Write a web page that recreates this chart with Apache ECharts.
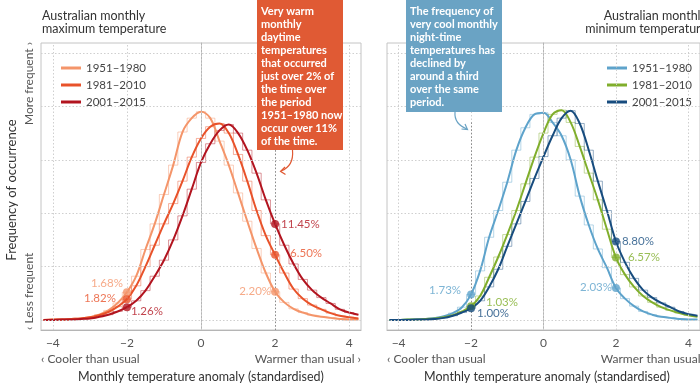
<!DOCTYPE html>
<html><head><meta charset="utf-8">
<script src="https://cdn.jsdelivr.net/npm/echarts@6/dist/echarts.min.js"></script>
<style>html,body{margin:0;padding:0;background:#fff}#c{width:700px;height:387px}</style>
</head><body><div id="c"></div>
<script>
// anomaly (standardised) bin centres
const xs = [-4.25,-4,-3.75,-3.5,-3.25,-3,-2.75,-2.5,-2.25,-2,-1.75,-1.5,-1.25,-1,-0.75,-0.5,-0.25,0,0.25,0.5,0.75,1,1.25,1.5,1.75,2,2.25,2.5,2.75,3,3.25,3.5,3.75,4,4.25];
// maximum temperature frequency
const maxT_1951_1980 = [0.000,0.001,0.001,0.002,0.003,0.005,0.010,0.018,0.032,0.052,0.082,0.132,0.180,0.235,0.290,0.352,0.378,0.390,0.378,0.335,0.290,0.238,0.185,0.134,0.088,0.053,0.033,0.021,0.014,0.009,0.006,0.004,0.002,0.001,0.001];
const maxT_1981_2010 = [0.000,0.001,0.001,0.002,0.003,0.005,0.009,0.015,0.025,0.039,0.064,0.100,0.140,0.180,0.218,0.260,0.305,0.340,0.362,0.368,0.350,0.310,0.260,0.205,0.158,0.122,0.088,0.058,0.040,0.028,0.020,0.013,0.008,0.005,0.003];
const maxT_2001_2015 = [0.000,0.000,0.001,0.001,0.002,0.003,0.006,0.010,0.016,0.024,0.036,0.055,0.082,0.112,0.150,0.195,0.245,0.295,0.330,0.355,0.366,0.350,0.318,0.275,0.225,0.180,0.140,0.105,0.076,0.056,0.042,0.031,0.020,0.014,0.010];
// minimum temperature frequency
const minT_1951_1980 = [0.000,0.000,0.001,0.001,0.002,0.004,0.007,0.013,0.024,0.048,0.092,0.155,0.205,0.258,0.318,0.360,0.385,0.388,0.370,0.345,0.300,0.232,0.178,0.133,0.098,0.060,0.040,0.026,0.016,0.010,0.006,0.004,0.002,0.001,0.001];
const minT_1981_2010 = [0.000,0.000,0.001,0.001,0.002,0.003,0.005,0.009,0.016,0.026,0.045,0.080,0.118,0.160,0.205,0.255,0.305,0.350,0.385,0.393,0.370,0.325,0.275,0.225,0.170,0.117,0.085,0.062,0.045,0.033,0.024,0.018,0.013,0.009,0.006];
const minT_2001_2015 = [0.000,0.000,0.000,0.001,0.001,0.002,0.004,0.008,0.014,0.022,0.036,0.062,0.095,0.138,0.180,0.222,0.265,0.306,0.345,0.378,0.392,0.368,0.318,0.260,0.205,0.147,0.108,0.078,0.056,0.042,0.032,0.024,0.016,0.011,0.008];
// periods
const periods = ['1951–1980','1981–2010','2001–2015'];
// tick labels
const xTicks = [-4,-2,0,2,4];
const yGrid = [0,0.1,0.2,0.3,0.4,0.5];
// highlighted thresholds and labels
const markX = [-2, 2];
const maxPct = [['1.68%','2.20%'],['1.82%','6.50%'],['1.26%','11.45%']];
const minPct = [['1.73%','2.03%'],['1.03%','6.57%'],['1.00%','8.80%']];

const FONT = 'Lato, "Noto Sans", sans-serif';
const maxColors = ['#f4956a','#e8522a','#b2141f'];
const minColors = ['#5ea3cb','#80ae2c','#174c7e'];
const maxData = [maxT_1951_1980, maxT_1981_2010, maxT_2001_2015];
const minData = [minT_1951_1980, minT_1981_2010, minT_2001_2015];

const YMIN = -0.0187, YMAX = 0.5187, XMIN = -4.32, XMAX = 4.32;

function pairs(arr){ return xs.map((x,i)=>[x, arr[i]]); }
function valAt(arr, x){ return arr[xs.indexOf(x)]; }

// label placement per marker: [position, offsetX, offsetY]
const maxLbl = [[['left',5,-9],['left',5,0]],[['left',-2,-1],['right',6,-2]],[['right',-5,4],['right',-3,0]]];
const minLbl = [[['left',-1,-4],['left',5,-1]],[['right',6,-4],['right',3,0]],[['right',-3,5],['right',-3,0]]];

function panel(gi, data, colors, pct, lbl, prefix, threshold){
  const s = [];
  s.push({
    type:'line', xAxisIndex:gi, yAxisIndex:gi, data:[], silent:true,
    markLine:{ silent:true, symbol:'none', label:{show:false}, animation:false,
      lineStyle:{color:'#cfcfcf', type:[1.5,2], width:1},
      data: yGrid.map(v=>({yAxis:v})).concat(xTicks.map(v=>({xAxis:v})))
        .concat([[{coord:[threshold.x, threshold.top], lineStyle:{color:'#8a8a8a', type:[1.5,2], width:1}},{coord:[threshold.x, YMIN]}]])
    }
  });
  data.forEach((arr,k)=>{
    s.push({ type:'line', xAxisIndex:gi, yAxisIndex:gi, data:pairs(arr), step:'middle', showSymbol:false, silent:true,
      lineStyle:{color:colors[k], width:1, opacity:0.45}, z:2 });
  });
  data.forEach((arr,k)=>{
    s.push({ name: prefix + periods[k], type:'line', xAxisIndex:gi, yAxisIndex:gi, data:pairs(arr), smooth:0.35, showSymbol:false,
      lineStyle:{color:colors[k], width:2}, itemStyle:{color:colors[k]}, z:3 });
  });
  data.forEach((arr,k)=>{
    s.push({ type:'scatter', xAxisIndex:gi, yAxisIndex:gi, symbolSize:8, z:5, silent:true,
      itemStyle:{color:colors[k]},
      data: markX.map((x,j)=>({ value:[x, valAt(arr,x)],
        label:{show:true, formatter:pct[k][j], position:lbl[k][j][0], distance:5,
          offset:[lbl[k][j][1], lbl[k][j][2]], color:colors[k], fontSize:11.5, fontFamily:FONT } })) });
  });
  return s;
}

const axisX = gi => ({ type:'value', gridIndex:gi, min:XMIN, max:XMAX,
  axisLine:{show:true, onZero:false, lineStyle:{color:'#b5b5b5'}}, axisTick:{show:false}, splitLine:{show:false},
  axisLabel:{customValues:xTicks, color:'#555', fontSize:12, fontFamily:FONT, margin:7,
    formatter: v => v < 0 ? '−' + Math.abs(v) : String(v)} });
const axisY = gi => ({ type:'value', gridIndex:gi, min:YMIN, max:YMAX,
  axisLine:{show:true, lineStyle:{color:'#b5b5b5'}}, axisTick:{show:false}, axisLabel:{show:false}, splitLine:{show:false} });

const legendCommon = { orient:'vertical', itemWidth:20, itemHeight:3, itemGap:5, icon:'rect',
  backgroundColor:'#fff', padding:[2,4,2,1], z:4,
  textStyle:{color:'#444', fontSize:11.5, fontFamily:FONT}, formatter: n => n.replace(/^(max|min) /,''), selectedMode:false };

const t = (x,y,text,opt) => ({type:'text', x, y, silent:true, style:Object.assign({text, fill:'#333', font:'12.5px '+FONT}, opt||{})});
const rot = Math.PI/2;
const boxText = {fill:'#fff', lineHeight:13, font:'bold 11px '+FONT};

const option = {
  animation:false,
  grid:[
    {left:41, top:43, width:320, height:287, show:true, borderColor:'#c4c4c4', borderWidth:1},
    {left:387, top:43, width:320, height:287, show:true, borderColor:'#c4c4c4', borderWidth:1}
  ],
  xAxis:[axisX(0), axisX(1)],
  yAxis:[axisY(0), axisY(1)],
  legend:[
    Object.assign({left:60, top:60, data:periods.map(p=>'max '+p)}, legendCommon),
    Object.assign({left:606, top:60, data:periods.map(p=>'min '+p)}, legendCommon)
  ],
  series: panel(0, maxData, maxColors, maxPct, maxLbl, 'max ', {x:2, top:0.318})
    .concat(panel(1, minData, minColors, minPct, minLbl, 'min ', {x:-2, top:0.37})),
  graphic:[
    // titles
    t(42, 9, 'Australian monthly\nmaximum temperature', {lineHeight:13.5, font:'12.5px '+FONT}),
    t(707, 9, 'Australian monthly\nminimum temperature', {lineHeight:13.5, align:'right', font:'12.5px '+FONT}),
    // y axis labels
    Object.assign(t(12, 190, 'Frequency of occurrence', {align:'center', verticalAlign:'middle', font:'13px '+FONT}), {rotation:rot}),
    Object.assign(t(29, 125, 'More frequent ›', {align:'left', verticalAlign:'middle', fill:'#555', font:'12px '+FONT}), {rotation:rot}),
    Object.assign(t(29, 330, '‹ Less frequent', {align:'left', verticalAlign:'middle', fill:'#555', font:'12px '+FONT}), {rotation:rot}),
    // x axis labels
    t(41, 359, '‹ Cooler than usual', {verticalAlign:'middle', fill:'#555', font:'12px '+FONT}),
    t(361, 359, 'Warmer than usual ›', {align:'right', verticalAlign:'middle', fill:'#555', font:'12px '+FONT}),
    t(387, 359, '‹ Cooler than usual', {verticalAlign:'middle', fill:'#555', font:'12px '+FONT}),
    t(707, 359, 'Warmer than usual ›', {align:'right', verticalAlign:'middle', fill:'#555', font:'12px '+FONT}),
    t(201, 377, 'Monthly temperature anomaly (standardised)', {align:'center', verticalAlign:'middle', font:'12.5px '+FONT}),
    t(547, 377, 'Monthly temperature anomaly (standardised)', {align:'center', verticalAlign:'middle', font:'12.5px '+FONT}),
    // annotation boxes
    {type:'rect', shape:{x:257, y:-2, width:86, height:152}, style:{fill:'#e05a34'}, z:10},
    Object.assign(t(261, 4.5, 'Very warm\nmonthly\ndaytime\ntemperatures\nthat occurred\njust over 2% of\nthe time over\nthe period\n1951–1980 now\noccur over 11%\nof the time.', boxText), {z:11}),
    {type:'rect', shape:{x:406, y:-2, width:96, height:114}, style:{fill:'#6aa3c4'}, z:10},
    Object.assign(t(410, 4.5, 'The frequency of\nvery cool monthly\nnight-time\ntemperatures has\ndeclined by\naround a third\nover the same\nperiod.', boxText), {z:11}),
    // arrows
    {type:'bezierCurve', shape:{x1:292.5, y1:150, cpx1:294, cpy1:166, x2:281, y2:171}, style:{stroke:'#e05a34', lineWidth:1.2, fill:null}, z:10},
    {type:'polyline', shape:{points:[[285,167],[280.5,171.3],[285.5,174.5]]}, style:{stroke:'#e05a34', lineWidth:1.2, fill:null}, z:10},
    {type:'bezierCurve', shape:{x1:455, y1:112, cpx1:454, cpy1:124, x2:467, y2:129}, style:{stroke:'#6aa3c4', lineWidth:1.2, fill:null}, z:10},
    {type:'polyline', shape:{points:[[461.5,129],[467.5,129.5],[465,124]]}, style:{stroke:'#6aa3c4', lineWidth:1.2, fill:null}, z:10}
  ]
};

const chart = echarts.init(document.getElementById('c'));
chart.setOption(option);
</script>
</body></html>
